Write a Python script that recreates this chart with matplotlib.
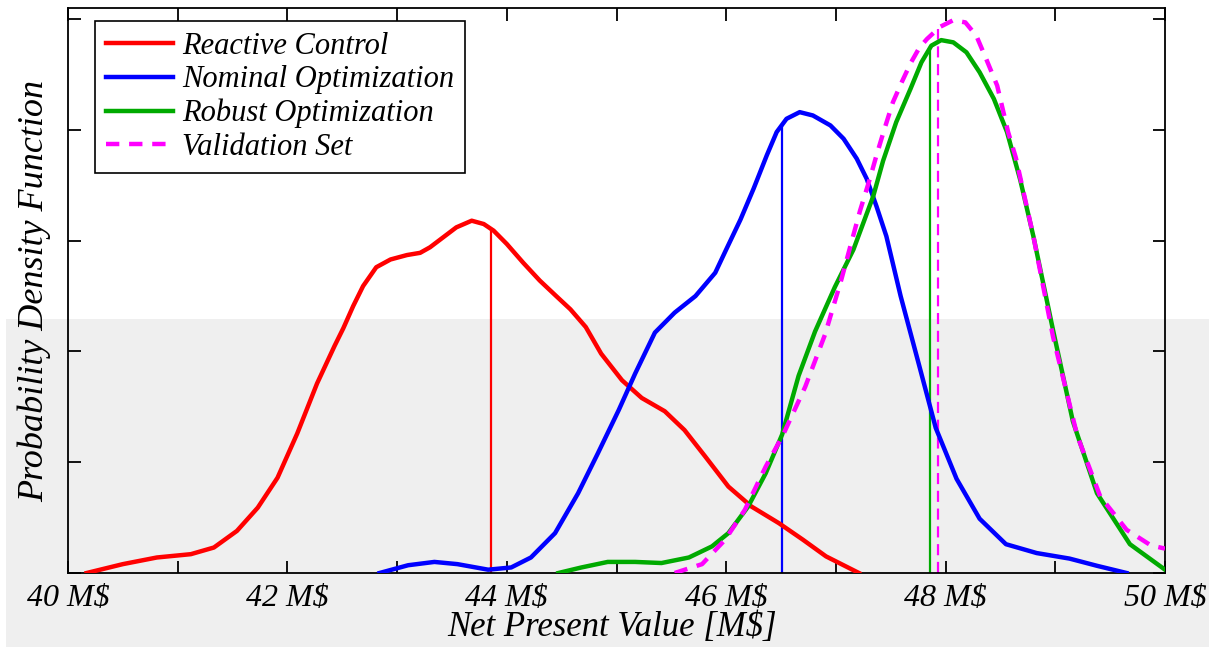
import matplotlib
matplotlib.use("Agg")
import matplotlib.pyplot as plt
from matplotlib.patches import Rectangle
import numpy as np

# NPV density estimates per strategy (x in M$, y is pdf)
reactive_x = [40.17, 40.50, 40.81, 41.12, 41.33, 41.54, 41.73, 41.91, 42.09, 42.27,
              42.43, 42.51, 42.60, 42.69, 42.81, 42.94, 43.09, 43.21, 43.30, 43.42,
              43.54, 43.68, 43.79, 43.88, 44.00, 44.15, 44.30, 44.45, 44.58, 44.72,
              44.86, 45.05, 45.23, 45.44, 45.62, 45.81, 46.02, 46.23, 46.48, 46.70,
              46.91, 47.21]
reactive_y = [0.000, 0.008, 0.014, 0.017, 0.023, 0.038, 0.059, 0.086, 0.126, 0.171,
              0.205, 0.221, 0.241, 0.259, 0.276, 0.283, 0.287, 0.289, 0.294, 0.303,
              0.312, 0.318, 0.315, 0.309, 0.297, 0.280, 0.264, 0.250, 0.238, 0.222,
              0.198, 0.174, 0.158, 0.146, 0.129, 0.105, 0.078, 0.060, 0.045, 0.030,
              0.015, 0.000]

nominal_x = [42.84, 43.10, 43.34, 43.55, 43.83, 44.04, 44.22, 44.44, 44.65, 44.83,
             45.02, 45.17, 45.35, 45.53, 45.72, 45.90, 46.00, 46.13, 46.25, 46.37,
             46.46, 46.55, 46.67, 46.79, 46.95, 47.07, 47.19, 47.28, 47.37, 47.46,
             47.59, 47.76, 47.91, 48.10, 48.31, 48.55, 48.83, 49.13, 49.38, 49.65]
nominal_y = [0.000, 0.007, 0.010, 0.008, 0.003, 0.005, 0.014, 0.036, 0.072, 0.108,
             0.147, 0.180, 0.217, 0.235, 0.250, 0.271, 0.292, 0.319, 0.347, 0.377,
             0.398, 0.410, 0.416, 0.413, 0.404, 0.392, 0.374, 0.356, 0.331, 0.304,
             0.250, 0.187, 0.131, 0.085, 0.049, 0.026, 0.018, 0.013, 0.0065, 0.000]

robust_x = [44.47, 44.68, 44.92, 45.17, 45.41, 45.66, 45.87, 46.02, 46.20, 46.36,
            46.51, 46.66, 46.81, 46.99, 47.16, 47.34, 47.43, 47.55, 47.68, 47.78,
            47.87, 47.96, 48.07, 48.19, 48.31, 48.44, 48.56, 48.68, 48.80, 48.98,
            49.16, 49.38, 49.68, 50.00]
robust_y = [0.000, 0.005, 0.010, 0.010, 0.009, 0.014, 0.024, 0.036, 0.060, 0.090,
            0.125, 0.178, 0.218, 0.258, 0.292, 0.340, 0.372, 0.407, 0.437, 0.461,
            0.476, 0.481, 0.479, 0.470, 0.452, 0.428, 0.398, 0.355, 0.304, 0.219,
            0.137, 0.072, 0.026, 0.003]

validation_x = [45.53, 45.78, 45.99, 46.17, 46.36, 46.52, 46.72, 46.90, 47.05, 47.14,
                47.22, 47.31, 47.37, 47.44, 47.52, 47.60, 47.68, 47.76, 47.83, 47.95,
                48.07, 48.18, 48.28, 48.37, 48.47, 48.57, 48.64, 48.80, 48.98, 49.20,
                49.41, 49.65, 49.87, 50.00]
validation_y = [0.000, 0.008, 0.030, 0.057, 0.096, 0.125, 0.168, 0.215, 0.265, 0.298,
                0.327, 0.356, 0.377, 0.400, 0.425, 0.443, 0.460, 0.474, 0.482, 0.493,
                0.499, 0.497, 0.485, 0.464, 0.440, 0.398, 0.375, 0.304, 0.213, 0.124,
                0.069, 0.039, 0.025, 0.022]

# expected NPV of each distribution (vertical markers)
means = [43.86, 46.51, 47.86, 47.93]

labels = ["Reactive Control", "Nominal Optimization", "Robust Optimization", "Validation Set"]
colors = ["#ff0000", "#0000ff", "#00aa00", "#ff00ff"]

xticks = list(range(40, 51))
xticklabels = [f"{v} M$" if v % 2 == 0 else "" for v in xticks]
yticks = [0.0, 0.1, 0.2, 0.3, 0.4, 0.5]

font = {"family": "Liberation Serif", "style": "italic"}

fig = plt.figure(figsize=(12.09, 6.47), dpi=100)
fig.patch.set_facecolor("white")
# faint grey band across the lower part of the page, behind the axes
fig.patches.append(Rectangle((6 / 1209, 0), 1, 1 - 319 / 647, transform=fig.transFigure,
                             facecolor="#efefef", edgecolor="none", zorder=-10))

ax = fig.add_axes([68 / 1209, 1 - 573 / 647, (1165 - 68) / 1209, (573 - 8) / 647])
ax.set_facecolor("none")
ax.set_zorder(1)

series = [(reactive_x, reactive_y), (nominal_x, nominal_y),
          (robust_x, robust_y), (validation_x, validation_y)]
for i, ((xs, ys), lab, col, mu) in enumerate(zip(series, labels, colors, means)):
    dashed = i == 3
    line, = ax.plot(xs, ys, color=col, lw=3.2, label=lab, zorder=3,
                    solid_joinstyle="round", dash_joinstyle="round")
    if dashed:
        line.set_dashes((3, 2.2))
    top = np.interp(mu, xs, ys)
    vline, = ax.plot([mu, mu], [0, top], color=col, lw=1.6, zorder=2)
    if dashed:
        vline.set_dashes((5, 3))

ax.set_xlim(40, 50)
ax.set_ylim(0, 0.51)
ax.set_xticks(xticks)
ax.set_xticklabels(xticklabels, fontdict=font, fontsize=23)
ax.set_yticks(yticks)
ax.set_yticklabels([])
ax.tick_params(direction="in", length=9, width=1.3, top=True, right=True, pad=8)
for sp in ax.spines.values():
    sp.set_linewidth(1.3)

ax.set_xlabel("Net Present Value [M$]", fontdict=font, fontsize=25)
ax.xaxis.set_label_coords(0.496, -0.068)
ax.set_ylabel("Probability Density Function", fontdict=font, fontsize=26)
ax.yaxis.set_label_coords(-0.015, 0.5)

leg = ax.legend(loc="upper left", bbox_to_anchor=(0.0246, 0.977), borderaxespad=0,
                prop={"family": "Liberation Serif", "style": "italic", "size": 22},
                handlelength=2.2, handletextpad=0.3, borderpad=0.35, labelspacing=0.15,
                fancybox=False, framealpha=1, edgecolor="black")
leg.get_frame().set_linewidth(1.2)

fig.savefig("out.png", dpi=100)
